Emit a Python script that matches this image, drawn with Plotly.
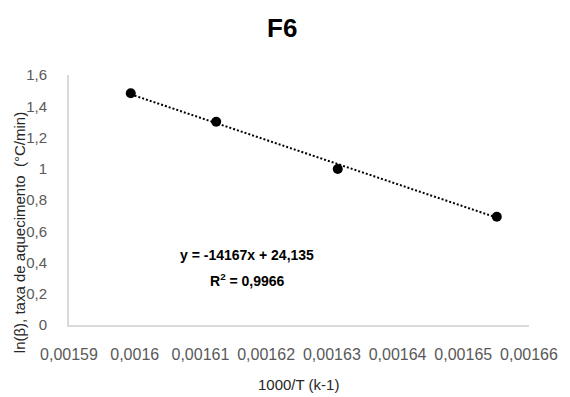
import plotly.graph_objects as go

# Measured points: 1000/T against ln(beta)
inv_temp = [0.0015994, 0.0016124, 0.0016309, 0.0016551]
ln_beta = [1.483, 1.301, 0.998, 0.693]

# Linear trendline as stated in the equation label
slope = -14167
intercept = 24.135
r_squared = "0,9966"

x_tick_vals = [0.00159, 0.00160, 0.00161, 0.00162, 0.00163, 0.00164, 0.00165, 0.00166]
x_tick_text = ["0,00159", "0,0016", "0,00161", "0,00162", "0,00163", "0,00164", "0,00165", "0,00166"]
y_tick_vals = [0, 0.2, 0.4, 0.6, 0.8, 1.0, 1.2, 1.4, 1.6]
y_tick_text = ["0", "0,2", "0,4", "0,6", "0,8", "1", "1,2", "1,4", "1,6"]

FONT = "Liberation Sans, Arial, sans-serif"
TICK_COLOR = "#595959"
AXIS_COLOR = "#d9d9d9"

W, H = 570, 397
L, R, T, B = 69, 30, 75, 72
PW, PH = W - L - R, H - T - B

trend_x = [inv_temp[0], inv_temp[-1]]
trend_y = [slope * v + intercept for v in trend_x]

fig = go.Figure()
fig.add_trace(go.Scatter(
    x=trend_x, y=trend_y, mode="lines",
    line=dict(color="black", width=2, dash="2px,2px"),
    hoverinfo="skip", showlegend=False,
))
fig.add_trace(go.Scatter(
    x=inv_temp, y=ln_beta, mode="markers",
    marker=dict(color="black", size=10),
    showlegend=False,
))

fig.update_layout(
    width=W, height=H,
    margin=dict(l=L, r=R, t=T, b=B),
    paper_bgcolor="white", plot_bgcolor="white",
    font=dict(family=FONT, color=TICK_COLOR),
    xaxis=dict(
        range=[0.00159, 0.00166],
        tickvals=x_tick_vals, ticktext=x_tick_text,
        showgrid=False, zeroline=False,
        showline=True, linecolor=AXIS_COLOR, linewidth=2,
        ticks="", ticklabelstandoff=14,
        tickfont=dict(size=16, color=TICK_COLOR, family=FONT),
    ),
    yaxis=dict(
        range=[0, 1.6],
        tickvals=y_tick_vals, ticktext=y_tick_text,
        showgrid=False, zeroline=False,
        showline=True, linecolor=AXIS_COLOR, linewidth=2,
        ticks="", ticklabelstandoff=17,
        tickfont=dict(size=15, color=TICK_COLOR, family=FONT),
    ),
)


def px_to_paper(px, py):
    return (px - L) / PW, (H - B - py) / PH


annotations = [
    dict(text="<b>F6</b>", x=287, y=28, font=dict(size=26, color="black",
         family="Liberation Sans Narrow, Liberation Sans, Arial, sans-serif")),
    dict(text="ln(β), taxa de aquecimento  (°C/min)", x=18, y=233, textangle=-90,
         font=dict(size=15, color="#262626", family=FONT)),
    dict(text="1000/T (k-1)", x=304, y=384,
         font=dict(size=15, color="#262626", family=FONT)),
]
for a in annotations:
    ax, ay = px_to_paper(a["x"], a["y"])
    fig.add_annotation(
        text=a["text"], x=ax, y=ay,
        xref="paper", yref="paper", showarrow=False,
        xanchor="center", yanchor="middle",
        textangle=a.get("textangle", 0), font=a["font"],
    )

# Trendline equation and R² beside the fit
eq_font = dict(size=14, color="black", family=FONT)
fig.add_annotation(
    text=f"<b>y = {slope}x + {str(intercept).replace('.', ',')}</b>",
    x=0.0016171, y=0.448, xref="x", yref="y", showarrow=False,
    xanchor="center", yanchor="middle", font=eq_font,
)
fig.add_annotation(
    text=f"<b>R<sup>2</sup> = {r_squared}</b>",
    x=0.0016171, y=0.288, xref="x", yref="y", showarrow=False,
    xanchor="center", yanchor="middle", font=eq_font,
)

fig.write_html("out.html")
